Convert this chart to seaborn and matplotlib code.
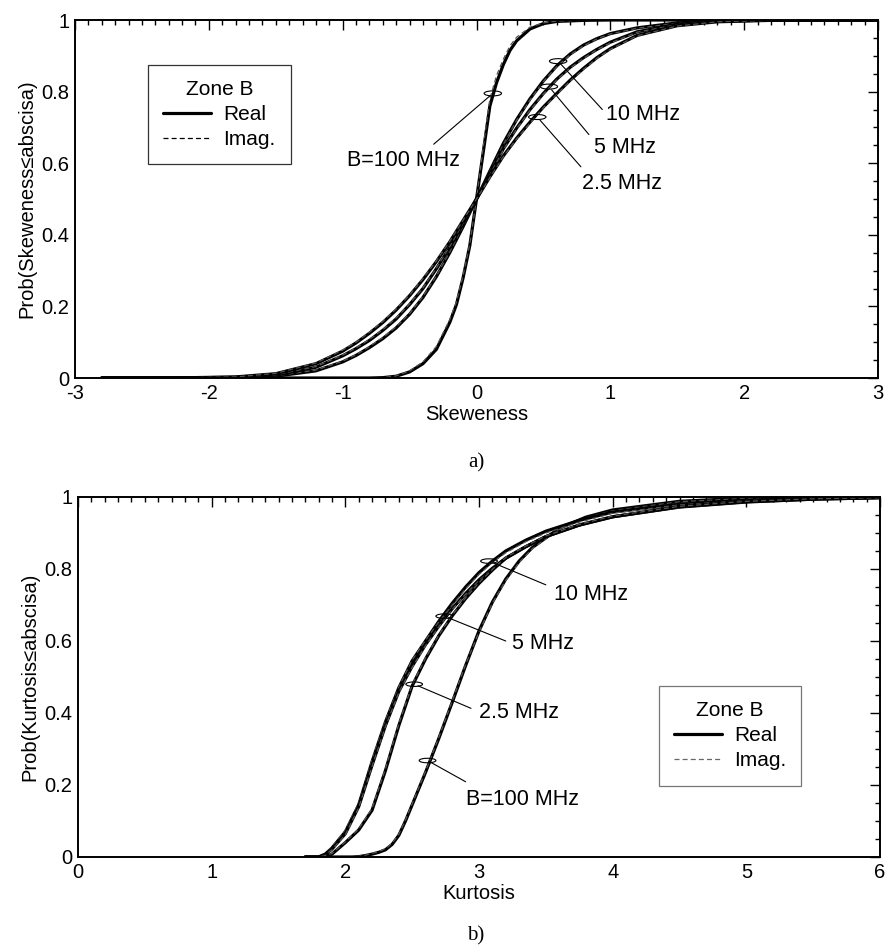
import numpy as np
import pandas as pd
import seaborn as sns
import matplotlib
matplotlib.use("Agg")
import matplotlib.pyplot as plt
from matplotlib.patches import Ellipse
from matplotlib.ticker import MultipleLocator

# ---------------- data ----------------
bands = ["B=100 MHz", "10 MHz", "5 MHz", "2.5 MHz"]

# Skewness CDFs
skew_x_100 = [-2.8, -0.8, -0.7, -0.6, -0.5, -0.4, -0.3, -0.2, -0.15, -0.1, -0.05, 0.0,
              0.05, 0.1, 0.15, 0.2, 0.25, 0.3, 0.4, 0.5, 0.6, 0.8, 1.0, 3.0]
skew_100_real = [0.0, 0.0, 0.001, 0.005, 0.017, 0.04, 0.08, 0.155, 0.205, 0.28, 0.37, 0.5,
                 0.63, 0.76, 0.825, 0.875, 0.915, 0.942, 0.975, 0.99, 0.996, 0.999, 1.0, 1.0]
skew_100_imag = [0.0, 0.0, 0.001, 0.006, 0.02, 0.045, 0.088, 0.163, 0.213, 0.287, 0.375, 0.5,
                 0.645, 0.78, 0.845, 0.89, 0.928, 0.952, 0.98, 0.992, 0.997, 0.999, 1.0, 1.0]

skew_x_broad = [-2.8, -2.2, -1.8, -1.5, -1.2, -1.0, -0.9, -0.8, -0.7, -0.6, -0.5, -0.4, -0.3,
                -0.2, -0.1, 0.0, 0.1, 0.2, 0.3, 0.4, 0.5, 0.6, 0.7, 0.8, 0.9, 1.0,
                1.2, 1.5, 1.8, 2.2, 3.0]
skew_10_real = [0.0, 0.0002, 0.001, 0.005, 0.02, 0.045, 0.063, 0.085, 0.11, 0.14, 0.178, 0.225,
                0.283, 0.35, 0.423, 0.5, 0.578, 0.655, 0.722, 0.78, 0.83, 0.872, 0.905, 0.93,
                0.948, 0.962, 0.978, 0.992, 0.998, 1.0, 1.0]
skew_10_imag = [0.0, 0.0002, 0.001, 0.006, 0.022, 0.047, 0.065, 0.088, 0.113, 0.143, 0.18, 0.228,
                0.285, 0.352, 0.425, 0.5, 0.576, 0.652, 0.72, 0.777, 0.828, 0.87, 0.903, 0.928,
                0.947, 0.961, 0.977, 0.991, 0.998, 1.0, 1.0]
skew_5_real = [0.0, 0.0003, 0.002, 0.008, 0.03, 0.062, 0.082, 0.105, 0.133, 0.165, 0.205, 0.25,
               0.305, 0.365, 0.432, 0.5, 0.57, 0.64, 0.698, 0.75, 0.795, 0.835, 0.868, 0.895,
               0.918, 0.938, 0.967, 0.988, 0.997, 0.9995, 1.0]
skew_5_imag = [0.0, 0.0003, 0.002, 0.009, 0.032, 0.064, 0.084, 0.108, 0.135, 0.168, 0.207, 0.252,
               0.307, 0.367, 0.433, 0.5, 0.568, 0.637, 0.696, 0.748, 0.793, 0.833, 0.866, 0.893,
               0.917, 0.936, 0.966, 0.987, 0.997, 0.9995, 1.0]
skew_2p5_real = [0.0, 0.0005, 0.003, 0.012, 0.04, 0.075, 0.098, 0.125, 0.155, 0.19, 0.23, 0.275,
                 0.325, 0.38, 0.44, 0.5, 0.562, 0.62, 0.67, 0.715, 0.757, 0.795, 0.832, 0.865,
                 0.895, 0.92, 0.957, 0.984, 0.995, 0.999, 1.0]
skew_2p5_imag = [0.0, 0.0005, 0.003, 0.013, 0.042, 0.078, 0.1, 0.128, 0.158, 0.193, 0.232, 0.278,
                 0.327, 0.382, 0.441, 0.5, 0.56, 0.618, 0.668, 0.712, 0.755, 0.792, 0.83, 0.862,
                 0.893, 0.918, 0.956, 0.983, 0.995, 0.999, 1.0]

# Kurtosis CDFs
kurt_x_100 = [1.9, 2.05, 2.1, 2.15, 2.2, 2.25, 2.3, 2.35, 2.4, 2.45, 2.5, 2.6, 2.7, 2.8, 2.9,
              3.0, 3.1, 3.2, 3.3, 3.4, 3.6, 3.8, 4.0, 4.5, 5.0, 6.0]
kurt_100_real = [0.0, 0.0, 0.001, 0.004, 0.008, 0.013, 0.02, 0.035, 0.06, 0.1, 0.145, 0.235,
                 0.33, 0.43, 0.532, 0.628, 0.708, 0.772, 0.822, 0.86, 0.913, 0.944, 0.964,
                 0.988, 0.997, 1.0]
kurt_100_imag = [0.0, 0.0, 0.002, 0.005, 0.01, 0.015, 0.023, 0.038, 0.063, 0.103, 0.148, 0.238,
                 0.333, 0.434, 0.535, 0.625, 0.705, 0.768, 0.818, 0.857, 0.91, 0.942, 0.962,
                 0.987, 0.996, 1.0]

kurt_x_broad = [1.7, 1.8, 1.85, 1.9, 2.0, 2.1, 2.2, 2.3, 2.4, 2.5, 2.6, 2.7, 2.8, 2.9, 3.0,
                3.1, 3.2, 3.35, 3.5, 3.75, 4.0, 4.5, 5.0, 5.5, 6.0]
kurt_10_real = [0.0, 0.0, 0.008, 0.025, 0.07, 0.145, 0.265, 0.375, 0.47, 0.545, 0.60, 0.655,
                0.705, 0.75, 0.79, 0.822, 0.85, 0.88, 0.905, 0.935, 0.958, 0.98, 0.991, 0.996, 0.999]
kurt_10_imag = [0.0, 0.0, 0.009, 0.028, 0.075, 0.15, 0.27, 0.378, 0.472, 0.547, 0.602, 0.653,
                0.70, 0.745, 0.785, 0.818, 0.845, 0.876, 0.90, 0.93, 0.955, 0.978, 0.99, 0.996, 0.999]
kurt_5_real = [0.0, 0.0, 0.007, 0.022, 0.065, 0.14, 0.255, 0.365, 0.46, 0.53, 0.59, 0.642,
               0.69, 0.732, 0.77, 0.802, 0.83, 0.862, 0.89, 0.922, 0.945, 0.972, 0.986, 0.994, 0.998]
kurt_5_imag = [0.0, 0.0, 0.006, 0.02, 0.062, 0.137, 0.252, 0.362, 0.457, 0.527, 0.587, 0.64,
               0.688, 0.73, 0.768, 0.8, 0.828, 0.86, 0.888, 0.92, 0.943, 0.97, 0.985, 0.994, 0.998]
kurt_2p5_real = [0.0, 0.0, 0.003, 0.008, 0.04, 0.075, 0.13, 0.24, 0.365, 0.475, 0.55, 0.615,
                 0.67, 0.718, 0.76, 0.797, 0.83, 0.862, 0.89, 0.922, 0.945, 0.973, 0.987, 0.994, 0.998]
kurt_2p5_imag = [0.0, 0.0, 0.004, 0.01, 0.042, 0.078, 0.135, 0.245, 0.37, 0.478, 0.553, 0.617,
                 0.672, 0.72, 0.762, 0.799, 0.832, 0.864, 0.892, 0.924, 0.947, 0.974, 0.988, 0.995, 0.998]

# annotation layout: (label, ellipse centre, line end, text position, ha)
skew_notes = [
    ("B=100 MHz", (0.122, 0.795), (-0.32, 0.653), (-0.12, 0.607), "right"),
    ("10 MHz", (0.61, 0.885), (0.94, 0.75), (0.97, 0.737), "left"),
    ("5 MHz", (0.541, 0.814), (0.84, 0.68), (0.88, 0.643), "left"),
    ("2.5 MHz", (0.454, 0.729), (0.78, 0.59), (0.79, 0.543), "left"),
]
kurt_notes = [
    ("10 MHz", (3.075, 0.822), (3.50, 0.756), (3.56, 0.73), "left"),
    ("5 MHz", (2.74, 0.669), (3.20, 0.60), (3.25, 0.592), "left"),
    ("2.5 MHz", (2.515, 0.48), (2.94, 0.413), (3.0, 0.40), "left"),
    ("B=100 MHz", (2.615, 0.268), (2.90, 0.209), (2.90, 0.161), "left"),
]

# ---------------- style ----------------
sns.set_style("white")
plt.rcParams["font.family"] = ["Liberation Sans", "DejaVu Sans"]
plt.rcParams["axes.linewidth"] = 1.4
for k in ["text.color", "axes.labelcolor", "xtick.color", "ytick.color", "axes.edgecolor"]:
    plt.rcParams[k] = "black"

REAL = dict(color="black", lw=2.3, linestyle="-")
IMAG = dict(color="#555555", lw=0.9, linestyle=(0, (4, 2.5)))

fig = plt.figure(figsize=(8.85, 9.49), dpi=100)
ax1 = fig.add_axes([75 / 885, 1 - 378 / 949, 803 / 885, 358 / 949])
ax2 = fig.add_axes([78 / 885, 1 - 857 / 949, 802 / 885, 360 / 949])


def draw(ax, series):
    first = True
    for x, yr, yi in series:
        sns.lineplot(x=x, y=yr, ax=ax, sort=False, estimator=None,
                     label="Real" if first else "_nolegend_", **REAL)
        sns.lineplot(x=x, y=yi, ax=ax, sort=False, estimator=None,
                     label="Imag." if first else "_nolegend_", **IMAG)
        first = False


def style_axes(ax, xlim, xlabel, ylabel):
    ax.set_xlim(*xlim)
    ax.set_ylim(0, 1)
    ax.xaxis.set_major_locator(MultipleLocator(1))
    ax.xaxis.set_minor_locator(MultipleLocator(0.1))
    ax.yaxis.set_major_locator(MultipleLocator(0.2))
    ax.yaxis.set_minor_locator(MultipleLocator(0.05))
    ax.tick_params(which="both", direction="in", top=True, right=True,
                   labelsize=14.5, width=1.0, colors="black")
    ax.tick_params(which="major", length=7, pad=4)
    ax.tick_params(which="minor", length=3.5)
    ax.set_yticks([0, 0.2, 0.4, 0.6, 0.8, 1.0])
    ax.set_yticklabels(["0", "0.2", "0.4", "0.6", "0.8", "1"])
    ax.set_xlabel(xlabel, fontsize=14.5, labelpad=2, color="black")
    ax.set_ylabel(ylabel, fontsize=14.5, labelpad=4, color="black")
    for s in ax.spines.values():
        s.set_color("black")
        s.set_linewidth(1.4)


def annotate(ax, notes, w, h):
    for label, c, end, tpos, ha in notes:
        ax.add_patch(Ellipse(c, w, h, fill=False, lw=0.8, ec="black", zorder=5))
        ax.annotate("", xy=c, xytext=end,
                    arrowprops=dict(arrowstyle="-", lw=0.8, color="black",
                                    shrinkA=0, shrinkB=3))
        ax.text(tpos[0], tpos[1], label, ha=ha, va="center", fontsize=15.5, color="black")


def make_legend(ax, anchor, edge, imag_color):
    leg = ax.legend(title="Zone B", loc="upper left", bbox_to_anchor=anchor,
                    fontsize=15, title_fontsize=15, frameon=True, fancybox=False,
                    edgecolor=edge, handlelength=2.3, labelspacing=0.3,
                    borderpad=0.72, handletextpad=0.6, borderaxespad=0)
    leg.get_frame().set_linewidth(0.9)
    leg.get_title().set_color("black")
    for t in leg.get_texts():
        t.set_color("black")
    leg.get_lines()[1].set_color(imag_color)
    return leg


# ---- panel a) ----
draw(ax1, [
    (skew_x_100, skew_100_real, skew_100_imag),
    (skew_x_broad, skew_10_real, skew_10_imag),
    (skew_x_broad, skew_5_real, skew_5_imag),
    (skew_x_broad, skew_2p5_real, skew_2p5_imag),
])
style_axes(ax1, (-3, 3), "Skeweness", "Prob(Skeweness\u2264abscisa)")
ax1.set_xticks([-3, -2, -1, 0, 1, 2, 3])
ax1.set_xticklabels(["-3", "-2", "-1", "0", "1", "2", "3"])
annotate(ax1, skew_notes, 0.13, 0.014)
make_legend(ax1, (0.091, 0.875), "black", "black")

# ---- panel b) ----
draw(ax2, [
    (kurt_x_100, kurt_100_real, kurt_100_imag),
    (kurt_x_broad, kurt_10_real, kurt_10_imag),
    (kurt_x_broad, kurt_5_real, kurt_5_imag),
    (kurt_x_broad, kurt_2p5_real, kurt_2p5_imag),
])
style_axes(ax2, (0, 6), "Kurtosis", "Prob(Kurtosis\u2264abscisa)")
annotate(ax2, kurt_notes, 0.125, 0.0125)
make_legend(ax2, (0.724, 0.475), "#555555", "#666666")

# captions
fig.text(476 / 885, 1 - 463 / 949, "a)", ha="center", va="center",
         fontsize=15, family=["Liberation Serif", "DejaVu Serif"], color="black")
fig.text(476 / 885, 1 - 936 / 949, "b)", ha="center", va="center",
         fontsize=15, family=["Liberation Serif", "DejaVu Serif"], color="black")

fig.savefig("out.png", dpi=100, facecolor="white")
